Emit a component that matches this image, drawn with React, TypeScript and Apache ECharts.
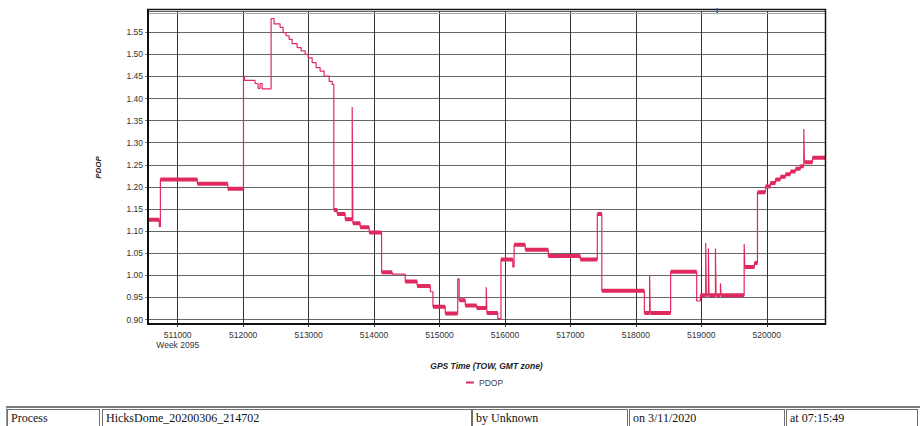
import React, { useEffect, useRef } from "react";
import * as echarts from "echarts";

// GPS time of week (s) where PDOP changes, and the PDOP value from that time on
const pdopTimes = [
  510546, 510719, 510735, 511300, 511765, 512005, 512020, 512182, 512228, 512258,
  512289, 512427, 512472, 512564, 512610, 512656, 512702, 512748, 512825, 512886,
  512947, 512993, 513054, 513115, 513176, 513237, 513314, 513360, 513385, 513436,
  513559, 513666, 513676, 513788, 513926, 514115, 514277, 514476, 514659, 514860,
  514900, 515088, 515278, 515301, 515393, 515569, 515714, 515724, 515890, 515939,
  516120, 516140, 516310, 516662, 517151, 517411, 517480, 518130, 518210, 518220,
  518531, 518930, 518986, 519067, 519077, 519108, 519118, 519216, 519226, 519292,
  519302, 519655, 519665, 519812, 519858, 519980, 520056, 520133, 520209, 520286,
  520362, 520439, 520515, 520566, 520576, 520699, 520890,
];
const pdopValues = [
  1.126, 1.110, 1.217, 1.207, 1.196, 1.450, 1.441, 1.434, 1.423, 1.434,
  1.422, 1.581, 1.569, 1.561, 1.549, 1.542, 1.534, 1.524, 1.515, 1.508,
  1.500, 1.492, 1.481, 1.470, 1.462, 1.451, 1.439, 1.432, 1.148, 1.139,
  1.127, 1.381, 1.118, 1.109, 1.097, 1.007, 1.003, 0.986, 0.976, 0.963,
  0.929, 0.914, 0.992, 0.944, 0.932, 0.926, 0.973, 0.915, 0.902, 1.036,
  1.019, 1.069, 1.058, 1.044, 1.036, 1.139, 0.965, 0.915, 1.000, 0.915,
  1.008, 0.942, 0.955, 1.073, 0.955, 1.061, 0.955, 1.061, 0.955, 0.982,
  0.955, 1.071, 1.019, 1.028, 1.188, 1.201, 1.209, 1.217, 1.223, 1.229,
  1.235, 1.241, 1.247, 1.331, 1.256, 1.266, 1.266,
];
// time spans where the value jitters and the trace looks like a thick band
const bandRanges: [number, number][] = [
  [510546, 510719], [510735, 512005], [513385, 513666], [513676, 514277],
  [514476, 514860], [514900, 515278], [515301, 515714], [515724, 515890],
  [515939, 516120], [516140, 518210], [518220, 518930], [518986, 519067],
  [519077, 519108], [519118, 519216], [519226, 519292], [519302, 519655],
  [519665, 520566], [520576, 520890],
];

const seriesName = "PDOP";
const xAxisTitle = "GPS Time (TOW, GMT zone)";
const yAxisTitle = "PDOP";
const weekTick = 511000;
const weekLabel = "Week 2095";
const tableCells = ["Process", "HicksDome_20200306_214702", "by Unknown", "on 3/11/2020", "at 07:15:49"];

const X_MIN = 510546;
const X_MAX = 520890;
const X_STEP = 1000;
const Y_MIN = 0.89;
const Y_MAX = 1.598;
const Y_STEP = 0.05;
const LINE_COLOR = "#e02a5f";

const cellBoxes = [
  { left: 7, width: 93 },
  { left: 102, width: 370 },
  { left: 472, width: 156 },
  { left: 629, width: 156 },
  { left: 786, width: 132 },
];

const onStep = (v: number, step: number) => Math.abs(v / step - Math.round(v / step)) < 1e-6;

export default function App() {
  const ref = useRef<HTMLDivElement>(null);

  useEffect(() => {
    if (!ref.current) return;
    const chart = echarts.init(ref.current, undefined, { renderer: "svg" });

    const mainData = pdopTimes.map((t, i) => [t, pdopValues[i]]);
    const bandData: any[] = [];
    for (let i = 0; i < pdopTimes.length - 1; i++) {
      const t0 = pdopTimes[i];
      const t1 = pdopTimes[i + 1];
      if (bandRanges.some(([a, b]) => t0 >= a && t1 <= b)) {
        bandData.push([t0, pdopValues[i]], [t1, pdopValues[i]], [t1, "-"]);
      }
    }

    const labelFont = { fontFamily: "'Liberation Sans', Arial, sans-serif", fontSize: 8.5, color: "#333" };

    chart.setOption({
      animation: false,
      backgroundColor: "#fff",
      grid: { left: 148, right: 95, top: 11, bottom: 76, outerBoundsMode: "none" },
      legend: {
        data: [{ name: seriesName, icon: "rect" }],
        left: 466,
        top: 378,
        padding: 0,
        itemWidth: 8,
        itemHeight: 2,
        textStyle: { fontFamily: "'Liberation Sans', Arial, sans-serif", fontSize: 8.5, color: "#444" },
      },
      xAxis: {
        type: "value",
        min: X_MIN,
        max: X_MAX,
        splitNumber: 10,
        minInterval: X_STEP,
        maxInterval: X_STEP,
        name: xAxisTitle,
        nameLocation: "middle",
        nameGap: 37,
        nameTextStyle: {
          fontFamily: "'Liberation Sans', Arial, sans-serif",
          fontSize: 8.5,
          fontWeight: "bold",
          fontStyle: "italic",
          color: "#222",
        },
        axisLine: { show: true, onZero: false, lineStyle: { color: "#111", width: 2 } },
        axisTick: { show: true, length: 3, lineStyle: { color: "#333" } },
        axisLabel: {
          ...labelFont,
          margin: 6,
          lineHeight: 10,
          showMinLabel: false,
          showMaxLabel: false,
          formatter: (v: number) =>
            !onStep(v, X_STEP) ? "" : v === weekTick ? `${v}\n${weekLabel}` : `${v}`,
        },
        splitLine: { show: true, lineStyle: { color: "#333", width: 1 } },
      },
      yAxis: {
        type: "value",
        min: Y_MIN,
        max: Y_MAX,
        splitNumber: 14,
        minInterval: Y_STEP,
        maxInterval: Y_STEP,
        name: yAxisTitle,
        nameLocation: "middle",
        nameRotate: 90,
        nameGap: 46,
        nameTextStyle: {
          fontFamily: "'Liberation Sans', Arial, sans-serif",
          fontSize: 8,
          fontWeight: "bold",
          fontStyle: "italic",
          color: "#222",
        },
        axisLine: { show: true, onZero: false, lineStyle: { color: "#111", width: 2 } },
        axisTick: { show: true, length: 3, lineStyle: { color: "#777" } },
        axisLabel: {
          ...labelFont,
          margin: 5,
          showMinLabel: false,
          showMaxLabel: false,
          formatter: (v: number) => (onStep(v, Y_STEP) ? v.toFixed(2) : ""),
        },
        splitLine: { show: true, lineStyle: { color: "#666", width: 1 } },
      },
      series: [
        {
          name: seriesName,
          type: "line",
          step: "end",
          data: mainData,
          showSymbol: false,
          color: LINE_COLOR,
          lineStyle: { color: LINE_COLOR, width: 1.2 },
          z: 3,
        },
        {
          name: "band",
          type: "line",
          data: bandData,
          showSymbol: false,
          connectNulls: false,
          silent: true,
          color: LINE_COLOR,
          lineStyle: { color: LINE_COLOR, width: 4 },
          z: 4,
        },
      ],
      graphic: [
        { type: "line", z: 100, shape: { x1: 147, y1: 9.5, x2: 826, y2: 9.5 }, style: { stroke: "#111", lineWidth: 1.5 } },
        { type: "line", z: 100, shape: { x1: 148, y1: 13.5, x2: 825, y2: 13.5 }, style: { stroke: "#aaa", lineWidth: 1 } },
        { type: "line", z: 100, shape: { x1: 825.5, y1: 9, x2: 825.5, y2: 325 }, style: { stroke: "#111", lineWidth: 1.5 } },
        { type: "line", z: 100, shape: { x1: 148, y1: 9, x2: 148, y2: 325 }, style: { stroke: "#111", lineWidth: 2 } },
        { type: "rect", z: 100, shape: { x: 716.5, y: 8, width: 1.5, height: 5 }, style: { fill: "#2a62c4" } },
      ],
    });

    return () => chart.dispose();
  }, []);

  return (
    <div style={{ position: "absolute", left: 0, top: 0, width: 920, height: 426, overflow: "hidden", background: "#fff" }}>
      <div ref={ref} style={{ position: "absolute", left: 0, top: 0, width: 920, height: 400 }} />
      <div
        style={{
          position: "absolute",
          left: 6,
          top: 406,
          width: 920,
          height: 30,
          borderTop: "2px solid #7a7a7a",
          borderLeft: "1px solid #9a9a9a",
        }}
      />
      {tableCells.map((txt, i) => (
        <div
          key={i}
          style={{
            position: "absolute",
            left: cellBoxes[i].left,
            top: 409,
            width: cellBoxes[i].width,
            height: 24,
            boxSizing: "border-box",
            border: "1px solid #6e6e6e",
            paddingLeft: 3,
            fontFamily: "'Liberation Serif', 'Times New Roman', serif",
            fontSize: 12,
            lineHeight: "16px",
            color: "#111",
            whiteSpace: "nowrap",
          }}
        >
          {txt}
        </div>
      ))}
    </div>
  );
}
